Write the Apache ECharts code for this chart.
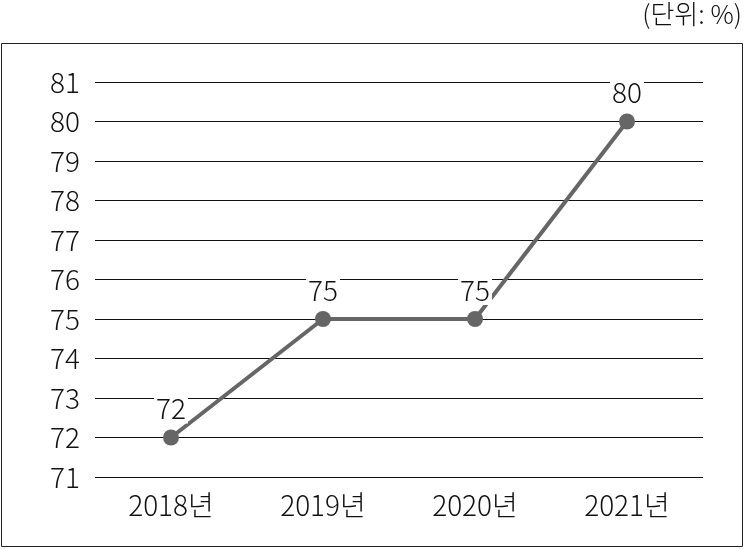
<!DOCTYPE html>
<html><head><meta charset="utf-8">
<script src="https://cdn.jsdelivr.net/npm/echarts@6/dist/echarts.min.js"></script>
<style>html,body{margin:0;padding:0;background:#fff}#c{width:745px;height:549px}</style>
</head><body><div id="c"></div>
<script>
const categories = ['2018년','2019년','2020년','2021년'];
const values = [72, 75, 75, 80];
const unitText = '(단위: %)';
const yMin = 71, yMax = 81, yStep = 1;

const FONT = '"Noto Sans CJK KR", "Noto Sans", sans-serif';
const chart = echarts.init(document.getElementById('c'), null, {renderer:'canvas'});
chart.setOption({
  animation: false,
  backgroundColor: '#fff',
  graphic: [
    {type:'rect', shape:{x:1.5, y:43.5, width:741, height:503}, style:{fill:'none', stroke:'#222', lineWidth:1}, z:-1},
    {type:'text', right: 3, top: 1, style:{text: unitText, font: '300 26px ' + FONT, fill:'#111'}}
  ],
  grid: {left: 95, right: 42, top: 82, bottom: 72},
  xAxis: {
    type: 'category', data: categories, boundaryGap: true,
    axisLine: {show:false}, axisTick: {show:false},
    axisLabel: {color:'#111', fontSize: 28, fontFamily: FONT, fontWeight: 300, margin: 14}
  },
  yAxis: {
    type: 'value', min: yMin, max: yMax, interval: yStep,
    axisLine: {show:false}, axisTick: {show:false},
    axisLabel: {color:'#111', fontSize: 28, fontFamily: FONT, fontWeight: 300, margin: 15},
    splitLine: {lineStyle: {color:'#111', width: 1}}
  },
  series: [{
    type: 'line', data: values,
    symbol: 'circle', symbolSize: 16,
    lineStyle: {color:'#666', width: 4},
    itemStyle: {color:'#666'},
    label: {show: true, position: 'top', distance: 6, color:'#111', fontSize: 28, fontFamily: FONT, fontWeight: 300,
      backgroundColor:'#fff', padding:[0,2], lineHeight: 30}
  }]
});
</script></body></html>
